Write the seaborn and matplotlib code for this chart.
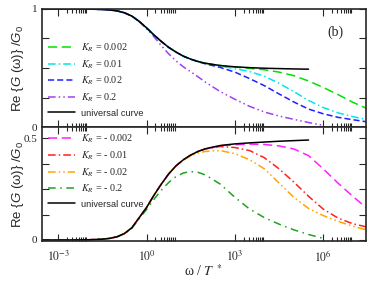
import numpy as np
import pandas as pd
import matplotlib
matplotlib.use('Agg')
import matplotlib.pyplot as plt
import seaborn as sns

sns.set_style('ticks')
plt.rcParams['font.family'] = ['Liberation Serif', 'DejaVu Serif']
plt.rcParams['mathtext.fontset'] = 'custom'
plt.rcParams['mathtext.rm'] = 'Liberation Sans'
plt.rcParams['mathtext.it'] = 'Liberation Sans:italic'

# log10(omega / T*) grid
log_w = [-3.55, -2.5, -2.0, -1.5, -1.25, -1.0, -0.75, -0.5, -0.25, 0.0, 0.25, 0.5, 0.75,
         1.0, 1.25, 1.5, 1.75, 2.0, 2.5, 3.0, 3.5, 4.0, 4.5, 5.0, 5.5, 6.0, 6.5, 7.0, 7.45]

# upper panel (K_R > 0)
univ_top = [1.0, 1.0, 0.999, 0.996, 0.992, 0.984, 0.968, 0.94, 0.895, 0.84, 0.78, 0.725, 0.675,
            0.635, 0.60, 0.575, 0.555, 0.54, 0.521, 0.51, 0.503, 0.498, 0.495, 0.492, 0.49]
kr_p0002 = [1.0, 1.0, 0.999, 0.996, 0.992, 0.984, 0.968, 0.94, 0.895, 0.84, 0.78, 0.725, 0.675,
            0.635, 0.60, 0.575, 0.555, 0.54, 0.521, 0.508, 0.497, 0.485, 0.465, 0.435, 0.39,
            0.335, 0.275, 0.21, 0.16]
kr_p001 = [1.0, 1.0, 0.999, 0.996, 0.992, 0.984, 0.968, 0.94, 0.895, 0.84, 0.78, 0.725, 0.675,
           0.635, 0.60, 0.575, 0.555, 0.539, 0.515, 0.495, 0.47, 0.43, 0.37, 0.30, 0.225,
           0.165, 0.12, 0.088, 0.065]
kr_p002 = [1.0, 1.0, 0.999, 0.996, 0.992, 0.984, 0.968, 0.94, 0.895, 0.84, 0.78, 0.725, 0.675,
           0.635, 0.60, 0.574, 0.553, 0.535, 0.505, 0.465, 0.41, 0.35, 0.28, 0.212, 0.152,
           0.112, 0.082, 0.062, 0.045]
kr_p02 = [1.0, 1.0, 0.999, 0.996, 0.992, 0.984, 0.967, 0.938, 0.892, 0.833, 0.765, 0.69, 0.62,
          0.56, 0.51, 0.468, 0.425, 0.38, 0.30, 0.235, 0.175, 0.127, 0.093, 0.065, 0.038, 0.014]

# lower panel (K_R < 0)
univ_bot = [0.0, 0.0, 0.001, 0.004, 0.008, 0.016, 0.032, 0.06, 0.11, 0.16, 0.22, 0.275, 0.325,
            0.365, 0.395, 0.418, 0.436, 0.449, 0.465, 0.473, 0.478, 0.482, 0.486, 0.489, 0.492]
kr_m0002 = [0.0, 0.0, 0.001, 0.004, 0.008, 0.016, 0.032, 0.06, 0.11, 0.16, 0.22, 0.275, 0.325,
            0.365, 0.395, 0.418, 0.436, 0.449, 0.464, 0.469, 0.472, 0.47, 0.463, 0.448, 0.415,
            0.35, 0.28, 0.215, 0.16]
kr_m001 = [0.0, 0.0, 0.001, 0.004, 0.008, 0.016, 0.032, 0.06, 0.11, 0.16, 0.22, 0.275, 0.325,
           0.365, 0.395, 0.418, 0.436, 0.448, 0.46, 0.455, 0.44, 0.405, 0.35, 0.285, 0.215,
           0.152, 0.108, 0.08, 0.065]
kr_m002 = [0.0, 0.0, 0.001, 0.004, 0.008, 0.016, 0.032, 0.06, 0.11, 0.16, 0.22, 0.275, 0.325,
           0.364, 0.393, 0.414, 0.428, 0.436, 0.44, 0.425, 0.395, 0.35, 0.28, 0.21, 0.155,
           0.12, 0.092, 0.068, 0.05]
kr_m02 = [0.0, 0.0, 0.001, 0.004, 0.008, 0.016, 0.031, 0.058, 0.105, 0.15, 0.20, 0.245, 0.283,
          0.312, 0.33, 0.337, 0.333, 0.32, 0.275, 0.21, 0.152, 0.11, 0.078, 0.05, 0.027, 0.008]

top_series = [
    ('$K_R$ = 0.002', kr_p0002, '#00e000', (0, (6, 3))),
    ('$K_R$ = 0.01', kr_p001, '#00e5ee', (0, (5, 2, 1, 2))),
    ('$K_R$ = 0.02', kr_p002, '#1f1fff', (0, (4, 2))),
    ('$K_R$ = 0.2', kr_p02, '#a040f0', (0, (5, 2, 1, 2, 1, 2))),
    ('universal curve', univ_top, 'black', '-'),
]
bot_series = [
    ('$K_R$ = - 0.002', kr_m0002, '#ff20ff', (0, (6, 3))),
    ('$K_R$ = - 0.01', kr_m001, '#ff2020', (0, (5, 2, 1, 2))),
    ('$K_R$ = - 0.02', kr_m002, '#ffa500', (0, (5, 2, 1, 2, 1, 2))),
    ('$K_R$ = - 0.2', kr_m02, '#22a022', (0, (5, 3, 1, 3))),
    ('universal curve', univ_bot, 'black', '-'),
]

x_major = [1e-3, 1e0, 1e3, 1e6]
x_labels = ['$10^{-3}$', '$10^{0}$', '$10^{3}$', '$10^{6}$']

fig = plt.figure(figsize=(3.74, 2.81), dpi=100)
ax1 = fig.add_axes([0.1123, 0.548, 0.8663, 0.42])
ax2 = fig.add_axes([0.1123, 0.1423, 0.8663, 0.4057], sharex=ax1)


def draw(ax, series):
    for label, vals, color, ls in series:
        df = pd.DataFrame({'w': 10 ** np.array(log_w[:len(vals)]), 'g': vals})
        sns.lineplot(data=df, x='w', y='g', ax=ax, color=color, linestyle=ls,
                     linewidth=1.1, label=label, sort=False)


draw(ax1, top_series)
draw(ax2, bot_series)

minor = [k * 10.0 ** n for n in (-3, 0, 3, 6) for k in range(2, 10)]
for ax in (ax1, ax2):
    ax.set_xscale('log')
    ax.set_xlim(10 ** -3.55, 10 ** 7.45)
    ax.set_xticks(x_major)
    ax.set_xticks(minor, minor=True)
    ax.tick_params(which='both', direction='in', top=True, right=True, width=0.8)
    ax.tick_params(which='major', length=5)
    ax.tick_params(which='minor', length=3)
    for sp in ax.spines.values():
        sp.set_linewidth(1.2)
    ax.set_xlabel('')

ax1.set_ylim(0, 1.0)
ax1.set_yticks([0, 0.25, 0.5, 0.75, 1.0])
ax1.set_yticklabels(['0', '', '', '', '1'], fontsize=8)
ax1.tick_params(axis='x', labelbottom=False)

ax2.set_ylim(-0.005, 0.556)
ax2.set_yticks([0, 0.125, 0.25, 0.375, 0.5])
ax2.set_yticklabels(['0', '', '', '', '0.5'], fontsize=8)
ax2.set_xticklabels(x_labels, fontsize=8.5, math_fontfamily='stix')
ax2.tick_params(axis='x', pad=6)
ax2.set_xlabel('ω / $T^{\\ *}$', fontsize=10, math_fontfamily='stix', labelpad=-1)

ylab = 'Re {$G$ (ω)} /$G_0$'
for ax in (ax1, ax2):
    ax.set_ylabel(ylab, fontsize=9.5, family='Liberation Sans')
    ax.yaxis.set_label_coords(-0.05, 0.5)

ax1.text(0.905, 0.80, '(b)', transform=ax1.transAxes, fontsize=10, ha='center', va='center')

for ax, anchor in ((ax1, (0.02, 0.725)), (ax2, (0.02, 0.95))):
    leg = ax.legend(loc='upper left', bbox_to_anchor=anchor, frameon=False, fontsize=7.3,
                    handlelength=2.6, handletextpad=0.6, labelspacing=0.42,
                    borderpad=0, borderaxespad=0)
    for t in leg.get_texts():
        if t.get_text().startswith('universal'):
            t.set_family('Liberation Sans')
            t.set_fontsize(6.7)
        else:
            t.set_math_fontfamily('stix')

fig.savefig('out.png', dpi=100)
